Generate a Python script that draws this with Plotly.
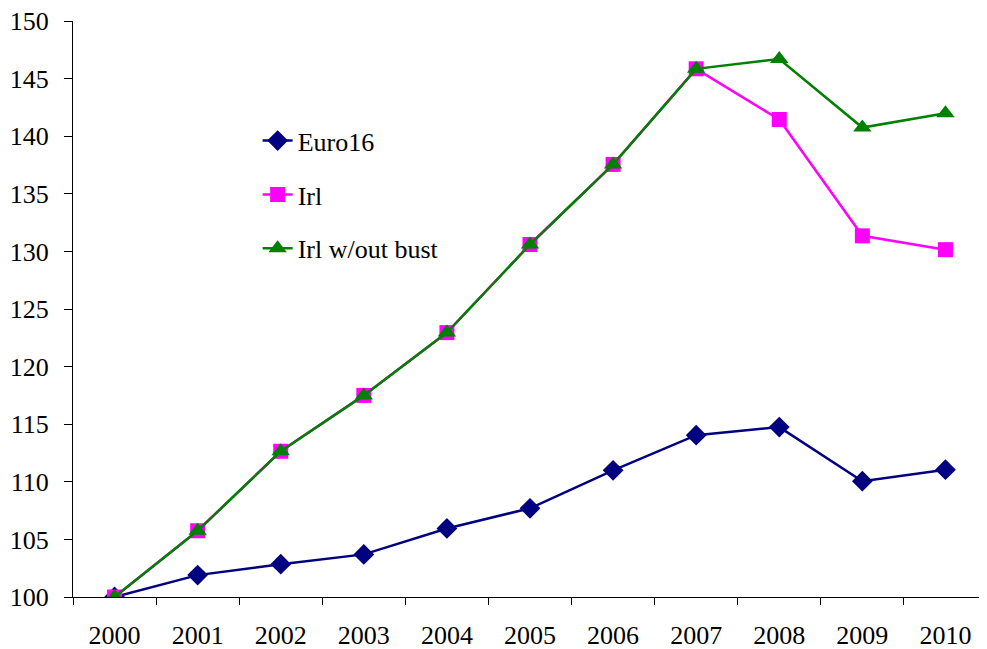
import plotly.graph_objects as go

years = ["2000", "2001", "2002", "2003", "2004", "2005", "2006", "2007", "2008", "2009", "2010"]
euro16 = [100.0, 101.9, 102.85, 103.7, 105.95, 107.7, 111.0, 114.05, 114.75, 110.05, 111.05]
irl = [100.0, 105.75, 112.65, 117.5, 122.95, 130.6, 137.55, 145.85, 141.45, 131.35, 130.15]
irl_no_bust = [100.0, 105.75, 112.65, 117.5, 122.95, 130.6, 137.55, 145.85, 146.7, 140.75, 142.0]

names = ["Euro16", "Irl", "Irl w/out bust"]
colors = ["#000080", "#FF00FF", "#008000"]
symbols = ["diamond", "square", "triangle-up"]
msizes = [16, 15, 16]
series = [euro16, irl, irl_no_bust]

fig = go.Figure()
for i, (nm, ys) in enumerate(zip(names, series)):
    fig.add_trace(go.Scatter(
        x=years, y=ys, name=nm, mode="lines+markers",
        line=dict(color=colors[i], width=2.5),
        marker=dict(symbol=symbols[i], size=msizes[i], color=colors[i]),
        legendgroup=nm,
    ))

font = dict(family="Liberation Serif, Times New Roman, serif", size=26, color="black")

# the page body adds an 8px offset, so the figure is sized to fit the window
fig.update_layout(
    width=979, height=641,
    margin=dict(l=65, r=0, t=13, b=52),
    paper_bgcolor="white", plot_bgcolor="white",
    font=font,
    showlegend=True,
    legend=dict(
        x=0.202, y=0.833, xanchor="left", yanchor="top",
        bgcolor="rgba(0,0,0,0)", traceorder="grouped",
        tracegroupgap=17, font=font,
    ),
    xaxis=dict(
        type="category", tickson="boundaries", ticks="outside", ticklen=7,
        range=[-0.5, 10.5],
        tickcolor="black", showline=True, linecolor="black", linewidth=1,
        showgrid=False, zeroline=False, ticklabelstandoff=15, automargin=False,
        ticklabeloverflow="allow",
    ),
    yaxis=dict(
        range=[100, 150], dtick=5, tick0=100, ticks="outside", ticklen=8,
        tickcolor="black", showline=True, linecolor="black", linewidth=1,
        showgrid=False, zeroline=False, ticklabelstandoff=10, automargin=False,
        ticklabeloverflow="allow",
    ),
)

fig.write_html("out.html")
